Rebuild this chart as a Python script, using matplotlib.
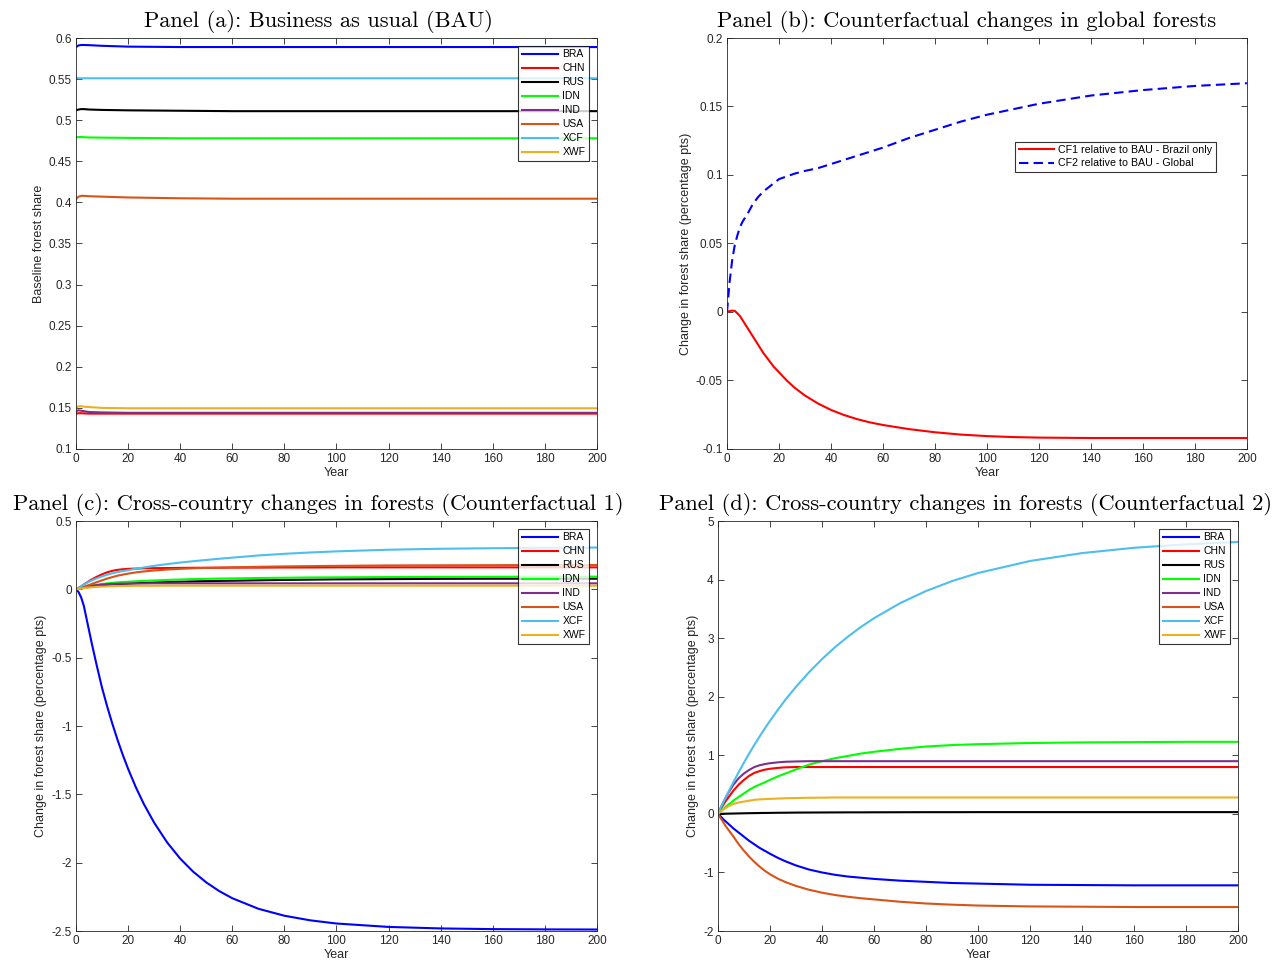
import matplotlib
matplotlib.use('Agg')
import matplotlib.pyplot as plt
from matplotlib.ticker import FuncFormatter

plt.rcParams['font.family'] = ['Liberation Sans', 'DejaVu Sans']
plt.rcParams['axes.unicode_minus'] = False

countries = ['BRA', 'CHN', 'RUS', 'IDN', 'IND', 'USA', 'XCF', 'XWF']
colors = ['#0000FF', '#FF0000', '#000000', '#00FF00', '#7E2F8E', '#D95319', '#4DBEEE', '#EDB120']

# Panel (a): baseline forest share
years_a = [0, 1, 2, 3, 5, 10, 20, 40, 60, 100, 200]
bau = {
    'BRA': [0.589, 0.591, 0.5915, 0.5915, 0.5913, 0.5905, 0.5895, 0.589, 0.589, 0.589, 0.589],
    'CHN': [0.143, 0.1435, 0.1435, 0.1433, 0.143, 0.143, 0.143, 0.143, 0.143, 0.143, 0.143],
    'RUS': [0.512, 0.513, 0.5135, 0.5135, 0.513, 0.5125, 0.512, 0.5115, 0.511, 0.511, 0.511],
    'IDN': [0.479, 0.4795, 0.4795, 0.4793, 0.479, 0.4788, 0.4785, 0.478, 0.478, 0.478, 0.478],
    'IND': [0.146, 0.147, 0.1465, 0.146, 0.145, 0.1445, 0.144, 0.144, 0.144, 0.144, 0.144],
    'USA': [0.404, 0.407, 0.408, 0.408, 0.4075, 0.407, 0.406, 0.405, 0.4045, 0.4045, 0.4045],
    'XCF': [0.552, 0.551, 0.551, 0.551, 0.551, 0.551, 0.551, 0.551, 0.551, 0.551, 0.551],
    'XWF': [0.150, 0.152, 0.152, 0.1515, 0.151, 0.150, 0.1495, 0.1495, 0.1495, 0.1495, 0.1495],
}

# Panel (b): global changes
years_b = [0, 1, 2, 3, 4, 5, 6, 8, 10, 12, 14, 16, 18, 20, 23, 26, 30, 35, 40, 45, 50, 55, 60,
           70, 80, 90, 100, 110, 120, 140, 160, 180, 200]
cf1_global = [0, 0.0007, 0.001, 0.0008, -0.001, -0.003, -0.006, -0.012, -0.018, -0.024, -0.030,
              -0.035, -0.040, -0.044, -0.050, -0.0553, -0.061, -0.0668, -0.0715, -0.0752, -0.0782,
              -0.0806, -0.0825, -0.0855, -0.0878, -0.0895, -0.0906, -0.0913, -0.0917, -0.092,
              -0.092, -0.092, -0.092]
cf2_global = [0, 0.022, 0.038, 0.049, 0.056, 0.062, 0.066, 0.072, 0.079, 0.084, 0.088, 0.091,
              0.094, 0.097, 0.099, 0.101, 0.103, 0.105, 0.108, 0.111, 0.114, 0.117, 0.120, 0.127,
              0.133, 0.139, 0.144, 0.148, 0.152, 0.158, 0.162, 0.165, 0.167]

# Panels (c) and (d): cross-country changes
years_cd = [0, 1, 2, 3, 4, 5, 6, 8, 10, 12, 14, 16, 18, 20, 23, 26, 30, 35, 40, 45, 50, 55, 60,
            70, 80, 90, 100, 120, 140, 160, 180, 200]
cf1 = {
    'BRA': [0, -0.02, -0.06, -0.12, -0.21, -0.30, -0.39, -0.56, -0.72, -0.859, -0.986, -1.104,
            -1.213, -1.313, -1.449, -1.569, -1.707, -1.852, -1.97, -2.066, -2.144, -2.208, -2.26,
            -2.337, -2.388, -2.422, -2.445, -2.47, -2.481, -2.486, -2.488, -2.489],
    'CHN': [0, 0.01, 0.022, 0.035, 0.048, 0.06, 0.072, 0.092, 0.11, 0.125, 0.136, 0.143, 0.147,
            0.15, 0.152, 0.154, 0.155, 0.156, 0.157, 0.158, 0.158, 0.158, 0.159, 0.159, 0.16,
            0.16, 0.161, 0.161, 0.161, 0.161, 0.161, 0.161],
    'RUS': [0, 0.004, 0.008, 0.012, 0.015, 0.018, 0.021, 0.026, 0.03, 0.033, 0.036, 0.038, 0.04,
            0.042, 0.045, 0.047, 0.05, 0.053, 0.056, 0.058, 0.06, 0.062, 0.063, 0.066, 0.069,
            0.071, 0.073, 0.075, 0.077, 0.078, 0.078, 0.078],
    'IDN': [0, 0.005, 0.01, 0.015, 0.019, 0.023, 0.027, 0.033, 0.039, 0.044, 0.048, 0.051, 0.054,
            0.056, 0.059, 0.062, 0.065, 0.069, 0.072, 0.075, 0.077, 0.079, 0.08, 0.083, 0.085,
            0.087, 0.088, 0.09, 0.091, 0.092, 0.093, 0.093],
    'IND': [0, 0.005, 0.01, 0.015, 0.019, 0.023, 0.026, 0.031, 0.035, 0.038, 0.04, 0.041, 0.042,
            0.043, 0.043, 0.043, 0.044, 0.044, 0.044, 0.044, 0.044, 0.044, 0.044, 0.044, 0.044,
            0.044, 0.044, 0.044, 0.044, 0.044, 0.044, 0.044],
    'USA': [0, 0.005, 0.011, 0.018, 0.025, 0.032, 0.039, 0.053, 0.066, 0.079, 0.09, 0.1, 0.108,
            0.115, 0.124, 0.131, 0.138, 0.145, 0.15, 0.154, 0.157, 0.159, 0.161, 0.165, 0.168,
            0.17, 0.172, 0.175, 0.176, 0.177, 0.178, 0.178],
    'XCF': [0, 0.012, 0.024, 0.035, 0.046, 0.056, 0.065, 0.081, 0.095, 0.107, 0.118, 0.127, 0.134,
            0.14, 0.151, 0.16, 0.172, 0.185, 0.196, 0.206, 0.215, 0.224, 0.232, 0.248, 0.26,
            0.27, 0.278, 0.29, 0.297, 0.301, 0.304, 0.306],
    'XWF': [0, 0.003, 0.006, 0.009, 0.011, 0.013, 0.015, 0.018, 0.02, 0.022, 0.023, 0.024, 0.025,
            0.025, 0.026, 0.026, 0.026, 0.027, 0.027, 0.027, 0.027, 0.027, 0.027, 0.027, 0.027,
            0.027, 0.027, 0.027, 0.027, 0.027, 0.027, 0.027],
}
cf2 = {
    'BRA': [0, -0.04, -0.09, -0.13, -0.17, -0.21, -0.25, -0.32, -0.39, -0.46, -0.52, -0.58, -0.63,
            -0.68, -0.75, -0.81, -0.88, -0.95, -1.00, -1.04, -1.07, -1.09, -1.11, -1.14, -1.16,
            -1.18, -1.19, -1.21, -1.215, -1.22, -1.22, -1.22],
    'CHN': [0, 0.08, 0.15, 0.22, 0.28, 0.34, 0.40, 0.50, 0.58, 0.65, 0.70, 0.73, 0.755, 0.77,
            0.785, 0.795, 0.80, 0.80, 0.80, 0.80, 0.80, 0.80, 0.80, 0.80, 0.80, 0.80, 0.80, 0.80,
            0.80, 0.80, 0.80, 0.80],
    'RUS': [0, 0.001, 0.002, 0.003, 0.004, 0.005, 0.006, 0.008, 0.01, 0.012, 0.013, 0.015, 0.016,
            0.017, 0.019, 0.02, 0.022, 0.023, 0.024, 0.025, 0.026, 0.026, 0.027, 0.028, 0.029,
            0.029, 0.03, 0.03, 0.03, 0.03, 0.03, 0.03],
    'IDN': [0, 0.04, 0.08, 0.12, 0.16, 0.19, 0.23, 0.29, 0.35, 0.41, 0.46, 0.50, 0.54, 0.58,
            0.64, 0.69, 0.76, 0.84, 0.90, 0.95, 0.99, 1.03, 1.06, 1.11, 1.15, 1.175, 1.19, 1.21,
            1.22, 1.225, 1.23, 1.23],
    'IND': [0, 0.10, 0.19, 0.28, 0.36, 0.43, 0.50, 0.61, 0.69, 0.75, 0.80, 0.83, 0.85, 0.865,
            0.88, 0.89, 0.895, 0.90, 0.90, 0.90, 0.90, 0.90, 0.90, 0.90, 0.90, 0.90, 0.90, 0.90,
            0.90, 0.90, 0.90, 0.90],
    'USA': [0, -0.07, -0.14, -0.21, -0.27, -0.33, -0.39, -0.52, -0.63, -0.73, -0.82, -0.90, -0.97,
            -1.03, -1.105, -1.165, -1.23, -1.295, -1.345, -1.385, -1.415, -1.44, -1.46, -1.50,
            -1.53, -1.55, -1.565, -1.58, -1.585, -1.59, -1.59, -1.59],
    'XCF': [0, 0.096, 0.19, 0.282, 0.372, 0.46, 0.547, 0.715, 0.875, 1.03, 1.178, 1.32, 1.457,
            1.587, 1.774, 1.952, 2.169, 2.416, 2.641, 2.845, 3.026, 3.191, 3.34, 3.596, 3.804,
            3.974, 4.112, 4.317, 4.452, 4.543, 4.602, 4.642],
    'XWF': [0, 0.04, 0.07, 0.10, 0.13, 0.15, 0.17, 0.195, 0.21, 0.225, 0.24, 0.247, 0.252, 0.256,
            0.262, 0.267, 0.271, 0.275, 0.277, 0.28, 0.28, 0.28, 0.28, 0.28, 0.28, 0.28, 0.28,
            0.28, 0.28, 0.28, 0.28, 0.28],
}

titles = ['Panel (a): Business as usual (BAU)',
          'Panel (b): Counterfactual changes in global forests',
          'Panel (c): Cross-country changes in forests (Counterfactual 1)',
          'Panel (d): Cross-country changes in forests (Counterfactual 2)']
title_x = [0.4655, 0.4615, 0.4645, 0.477]

fig = plt.figure(figsize=(12.75, 9.67), dpi=100)
ax_a = fig.add_axes([0.0596, 0.5357, 0.4086, 0.4250])
ax_b = fig.add_axes([0.5702, 0.5357, 0.4078, 0.4250])
ax_c = fig.add_axes([0.0596, 0.0372, 0.4086, 0.4240])
ax_d = fig.add_axes([0.5631, 0.0372, 0.4078, 0.4240])


def style(ax, i, ylabel, ylim, yticks):
    ax.set_xlim(0, 200)
    ax.set_xticks(range(0, 201, 20))
    ax.set_ylim(*ylim)
    ax.set_yticks(yticks)
    ax.yaxis.set_major_formatter(FuncFormatter(lambda v, p: '%g' % round(v, 4)))
    ax.tick_params(direction='in', top=True, right=True, labelsize=8.5, length=4,
                   width=0.6, colors='#262626', pad=3)
    for s in ax.spines.values():
        s.set_linewidth(0.6)
        s.set_color('#262626')
    ax.set_title(titles[i], family='cmr10', fontsize=16.2, pad=8, x=title_x[i])
    ax.set_xlabel('Year', fontsize=9, color='#262626', labelpad=1)
    ax.set_ylabel(ylabel, fontsize=9, color='#262626', labelpad=3)


def country_legend(ax):
    leg = ax.legend(loc='upper right', fontsize=7.5, frameon=True, fancybox=False,
                    edgecolor='black', handlelength=3.5, handletextpad=0.4,
                    labelspacing=0.38, borderaxespad=0.75, borderpad=0.35)
    leg.get_frame().set_linewidth(0.8)


for c, col in zip(countries, colors):
    ax_a.plot(years_a, bau[c], color=col, lw=1.5, label=c)
style(ax_a, 0, 'Baseline forest share', (0.1, 0.6), [0.1 + 0.05 * i for i in range(11)])
country_legend(ax_a)

ax_b.plot(years_b, cf1_global, color='#FF0000', lw=1.5, label='CF1 relative to BAU - Brazil only')
ax_b.plot(years_b, cf2_global, color='#0000FF', lw=1.5, ls=(0, (4.5, 2.5)),
          label='CF2 relative to BAU - Global')
style(ax_b, 1, 'Change in forest share (percentage pts)', (-0.1, 0.2), [-0.1 + 0.05 * i for i in range(7)])
leg = ax_b.legend(loc='upper right', bbox_to_anchor=(0.95, 0.76), fontsize=7.7, frameon=True,
                  fancybox=False, edgecolor='black', handlelength=3.3, handletextpad=0.4,
                  labelspacing=0.3, borderpad=0.3)
leg.get_frame().set_linewidth(0.8)

for c, col in zip(countries, colors):
    ax_c.plot(years_cd, cf1[c], color=col, lw=1.5, label=c)
style(ax_c, 2, 'Change in forest share (percentage pts)', (-2.5, 0.5), [-2.5 + 0.5 * i for i in range(7)])
country_legend(ax_c)

for c, col in zip(countries, colors):
    ax_d.plot(years_cd, cf2[c], color=col, lw=1.5, label=c)
style(ax_d, 3, 'Change in forest share (percentage pts)', (-2, 5), list(range(-2, 6)))
country_legend(ax_d)

fig.savefig('out.png', dpi=100)
